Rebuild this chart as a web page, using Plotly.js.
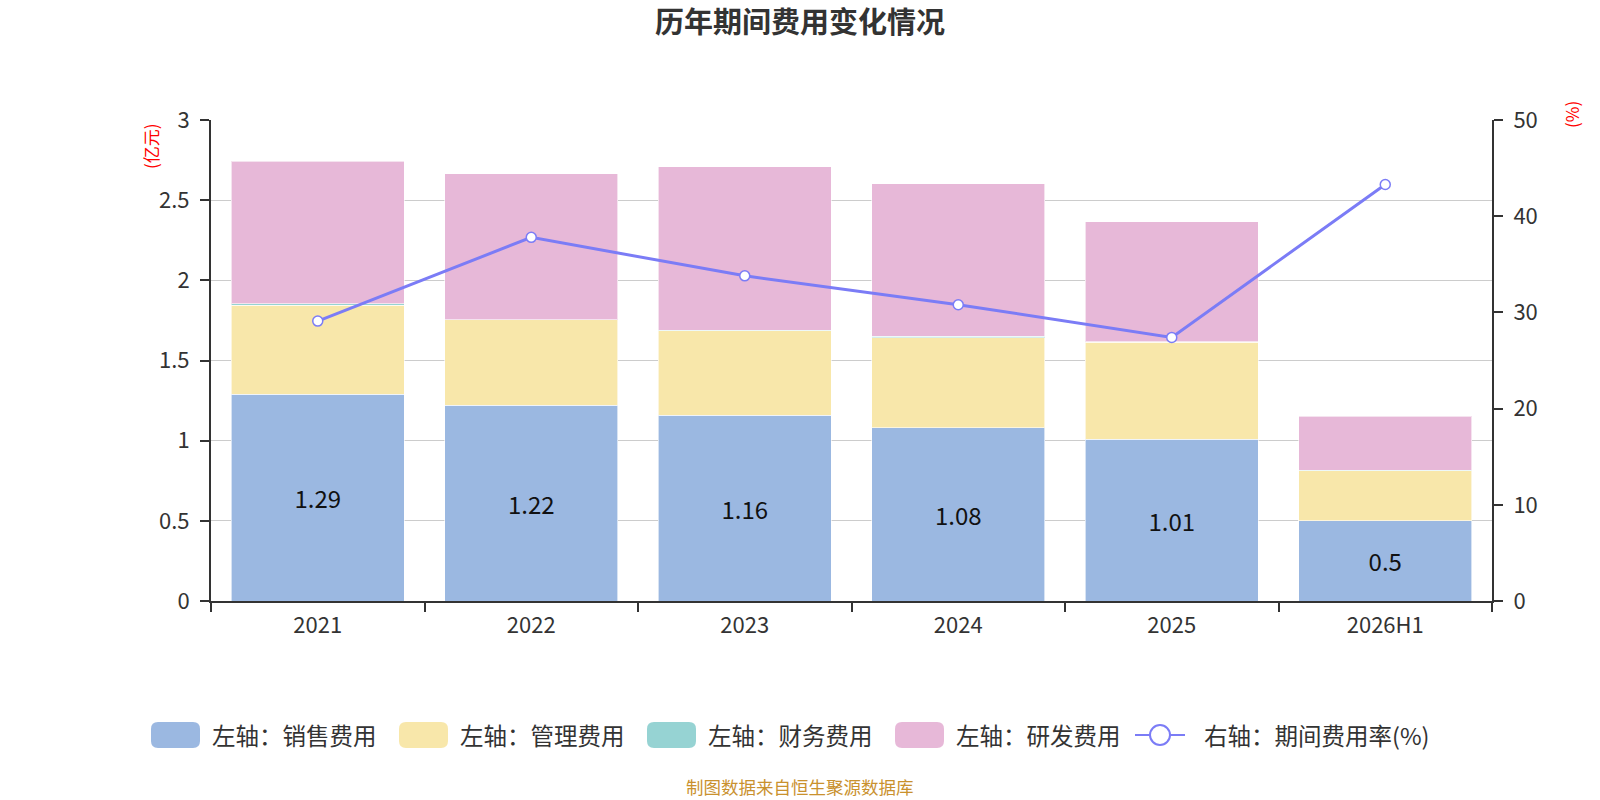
<!DOCTYPE html>
<html>
<head>
<meta charset="utf-8">
<script src="https://cdn.plot.ly/plotly-3.0.1.min.js"></script>
<style>
  body { margin: 0; background: #fff; }
  #chart { width: 1600px; height: 800px; }
</style>
</head>
<body>
<div id="chart"></div>
<script>
/* ----- data ----- */
var years = ['2021', '2022', '2023', '2024', '2025', '2026H1'];
var salesCost = [1.29, 1.22, 1.16, 1.08, 1.01, 0.50];     // 销售费用 (亿元)
var adminCost = [0.555, 0.533, 0.527, 0.563, 0.604, 0.313]; // 管理费用
var financeCost = [0.01, 0.002, 0.003, 0.008, 0.002, 0.002]; // 财务费用
var rndCost = [0.888, 0.911, 1.018, 0.95, 0.748, 0.337];   // 研发费用
var expenseRate = [29.1, 37.8, 33.8, 30.8, 27.4, 43.3];   // 期间费用率 (%)

var seriesNames = ['左轴：销售费用', '左轴：管理费用', '左轴：财务费用', '左轴：研发费用', '右轴：期间费用率(%)'];
var colors = ['#9bb8e1', '#f8e7aa', '#96d3d3', '#e7b8d8', '#7b7cf6'];

/* ----- plot area in pixels ----- */
var W = 1600, H = 800;
var plotL = 211, plotR = 1492, plotT = 120, plotB = 601;
var FONT = '"Noto Sans CJK SC", "Noto Sans", sans-serif';

function px2x(px) { return (px - plotL) / (plotR - plotL); }
function px2y(py) { return (plotB - py) / (plotB - plotT); }

/* ----- traces ----- */
var barValues = [salesCost, adminCost, financeCost, rndCost];
var data = [];
for (var i = 0; i < barValues.length; i++) {
    var trace = {
        type: 'bar',
        x: years,
        y: barValues[i],
        name: seriesNames[i],
        marker: { color: colors[i], line: { color: 'rgba(255,255,255,0.6)', width: 1 } },
        hoverinfo: 'none',
        showlegend: false
    };
    if (i === 0) {
        trace.text = salesCost.map(function (v) { return String(v); });
        trace.textposition = 'inside';
        trace.insidetextanchor = 'middle';
        trace.textfont = { family: FONT, size: 24, color: '#111' };
    }
    data.push(trace);
}

data.push({
    type: 'scatter',
    mode: 'lines+markers',
    x: years,
    y: expenseRate,
    yaxis: 'y2',
    name: seriesNames[4],
    line: { color: colors[4], width: 3 },
    marker: { symbol: 'circle', size: 10, color: '#fff', line: { color: colors[4], width: 1.5 } },
    hoverinfo: 'none',
    showlegend: false
});

/* ----- custom legend (big rounded swatches) ----- */
var shapes = [];
var annotations = [];
var legendY = 735;
var legendStart = 151, legendStep = 248;

function roundRect(x0, y0, x1, y1, r) {
    // coordinates in pixels -> path in paper units
    var p = [
        'M', px2x(x0 + r), px2y(y0),
        'L', px2x(x1 - r), px2y(y0),
        'Q', px2x(x1), px2y(y0), px2x(x1), px2y(y0 + r),
        'L', px2x(x1), px2y(y1 - r),
        'Q', px2x(x1), px2y(y1), px2x(x1 - r), px2y(y1),
        'L', px2x(x0 + r), px2y(y1),
        'Q', px2x(x0), px2y(y1), px2x(x0), px2y(y1 - r),
        'L', px2x(x0), px2y(y0 + r),
        'Q', px2x(x0), px2y(y0), px2x(x0 + r), px2y(y0),
        'Z'
    ];
    return p.join(' ');
}

for (var k = 0; k < seriesNames.length; k++) {
    var sx = legendStart + k * legendStep;
    if (k < 4) {
        shapes.push({
            type: 'path', xref: 'paper', yref: 'paper',
            path: roundRect(sx, legendY - 13, sx + 49, legendY + 13, 7),
            fillcolor: colors[k], line: { width: 0 }
        });
    } else {
        shapes.push({
            type: 'line', xref: 'paper', yref: 'paper',
            x0: px2x(sx - 8), x1: px2x(sx + 42), y0: px2y(legendY), y1: px2y(legendY),
            line: { color: colors[k], width: 2 }
        });
        shapes.push({
            type: 'circle', xref: 'paper', yref: 'paper',
            x0: px2x(sx + 7), x1: px2x(sx + 27), y0: px2y(legendY - 10), y1: px2y(legendY + 10),
            fillcolor: '#fff', line: { color: colors[k], width: 2 }
        });
    }
    annotations.push({
        xref: 'paper', yref: 'paper',
        x: px2x(sx + 59), y: px2y(legendY),
        xanchor: 'left', yanchor: 'middle',
        text: seriesNames[k], showarrow: false,
        font: { family: FONT, size: 23.5, color: '#333' }
    });
}

/* axis unit labels and source note */
annotations.push({
    xref: 'paper', yref: 'paper', x: px2x(150), y: px2y(146),
    xanchor: 'center', yanchor: 'middle',
    text: '(亿元)', textangle: -90, showarrow: false,
    font: { family: FONT, size: 17, color: '#ff0000' }
});
annotations.push({
    xref: 'paper', yref: 'paper', x: px2x(1571), y: px2y(115),
    xanchor: 'center', yanchor: 'middle',
    text: '(%)', textangle: -90, showarrow: false,
    font: { family: FONT, size: 17, color: '#ff0000' }
});
annotations.push({
    xref: 'paper', yref: 'paper', x: px2x(800), y: px2y(786),
    xanchor: 'center', yanchor: 'middle',
    text: '制图数据来自恒生聚源数据库', showarrow: false,
    font: { family: FONT, size: 17.5, color: '#c9912e' }
});

var tickFont = { family: FONT, size: 22, color: '#333' };

var layout = {
    width: W,
    height: H,
    paper_bgcolor: '#fff',
    plot_bgcolor: '#fff',
    font: { family: FONT, color: '#333' },
    title: {
        text: '<b>历年期间费用变化情况</b>',
        x: 0.5, xanchor: 'center',
        y: 1 - 23 / H, yanchor: 'middle',
        font: { family: FONT, size: 29, color: '#333' }
    },
    margin: { l: plotL, r: W - plotR, t: plotT, b: H - plotB, pad: 0 },
    barmode: 'stack',
    bargap: 0.19,
    showlegend: false,
    xaxis: {
        type: 'category',
        showline: true, linecolor: '#333', linewidth: 2,
        ticks: 'outside', tickson: 'boundaries', ticklen: 9, tickcolor: '#333', tickwidth: 2,
        tickfont: tickFont, ticklabelstandoff: 4,
        showgrid: false
    },
    yaxis: {
        range: [0, 3], dtick: 0.5, autorange: false,
        showline: true, linecolor: '#333', linewidth: 2,
        ticks: 'outside', ticklen: 9, tickcolor: '#333', tickwidth: 2,
        tickfont: tickFont, ticklabelstandoff: 6,
        showgrid: true, gridcolor: '#cccccc', gridwidth: 1.3,
        zeroline: false
    },
    yaxis2: {
        overlaying: 'y', side: 'right',
        range: [0, 50], dtick: 10, autorange: false,
        showline: true, linecolor: '#333', linewidth: 2,
        ticks: 'outside', ticklen: 9, tickcolor: '#333', tickwidth: 2,
        tickfont: tickFont, ticklabelstandoff: 6,
        showgrid: false, zeroline: false
    },
    shapes: shapes,
    annotations: annotations
};

Plotly.newPlot('chart', data, layout, { staticPlot: true });
</script>
</body>
</html>
